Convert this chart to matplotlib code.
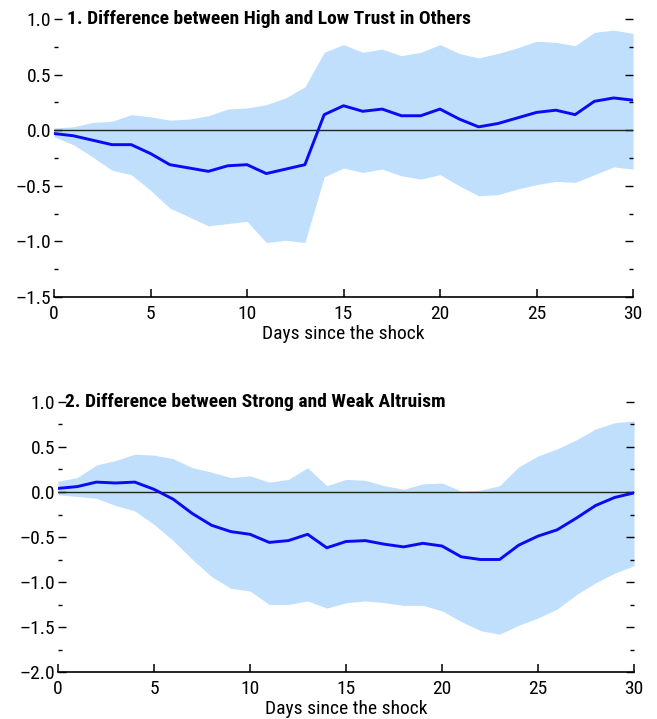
import numpy as np
import matplotlib
matplotlib.use("Agg")
import matplotlib.pyplot as plt
from matplotlib.ticker import MultipleLocator

plt.rcParams['font.family'] = ['Roboto Condensed', 'Archivo Narrow', 'DejaVu Sans']

days = list(range(31))

# Panel 1: high vs low trust in others
trust_mean = [-0.03, -0.05, -0.09, -0.13, -0.13, -0.21, -0.31, -0.34, -0.37, -0.32,
              -0.31, -0.39, -0.35, -0.31, 0.14, 0.22, 0.17, 0.19, 0.13, 0.13,
              0.19, 0.10, 0.03, 0.06, 0.11, 0.16, 0.18, 0.14, 0.26, 0.29, 0.27]
trust_upper = [0.02, 0.03, 0.07, 0.08, 0.14, 0.12, 0.09, 0.10, 0.13, 0.19,
               0.20, 0.23, 0.29, 0.39, 0.70, 0.77, 0.70, 0.73, 0.67, 0.70,
               0.77, 0.69, 0.65, 0.69, 0.74, 0.80, 0.79, 0.76, 0.88, 0.90, 0.87]
trust_lower = [-0.06, -0.13, -0.24, -0.36, -0.40, -0.54, -0.70, -0.78, -0.86, -0.84,
               -0.82, -1.01, -0.99, -1.01, -0.42, -0.34, -0.38, -0.35, -0.41, -0.44,
               -0.40, -0.50, -0.59, -0.58, -0.53, -0.49, -0.46, -0.47, -0.40, -0.33, -0.35]

# Panel 2: strong vs weak altruism
altru_mean = [0.04, 0.06, 0.11, 0.10, 0.11, 0.03, -0.08, -0.24, -0.37, -0.44,
              -0.47, -0.56, -0.54, -0.47, -0.62, -0.55, -0.54, -0.58, -0.61, -0.57,
              -0.60, -0.72, -0.75, -0.75, -0.59, -0.49, -0.42, -0.29, -0.15, -0.06, -0.01]
altru_upper = [0.12, 0.16, 0.30, 0.35, 0.42, 0.41, 0.37, 0.27, 0.22, 0.16,
               0.18, 0.11, 0.14, 0.27, 0.07, 0.14, 0.13, 0.07, 0.03, 0.09,
               0.10, 0.01, 0.02, 0.07, 0.28, 0.40, 0.48, 0.58, 0.70, 0.77, 0.79]
altru_lower = [-0.03, -0.05, -0.07, -0.15, -0.21, -0.36, -0.54, -0.75, -0.94, -1.07,
               -1.10, -1.25, -1.25, -1.21, -1.29, -1.23, -1.21, -1.23, -1.26, -1.26,
               -1.32, -1.44, -1.54, -1.58, -1.48, -1.40, -1.30, -1.14, -1.01, -0.90, -0.82]

titles = ["1. Difference between High and Low Trust in Others",
          "2. Difference between Strong and Weak Altruism"]

BAND = '#c0dffd'
LINE = '#0a0af5'
W, H = 657, 719

fig = plt.figure(figsize=(W / 100, H / 100), dpi=100)
ax1 = fig.add_axes([54 / W, 1 - 297 / H, 579 / W, 278 / H])
ax2 = fig.add_axes([58 / W, 1 - 672 / H, 576 / W, 270 / H])

panels = [
    (ax1, trust_mean, trust_lower, trust_upper, (-1.5, 1.0), 0.022),
    (ax2, altru_mean, altru_lower, altru_upper, (-2.0, 1.0), 0.012),
]

for (ax, mean, lo, hi, ylim, tx), title in zip(panels, titles):
    ax.fill_between(days, lo, hi, color=BAND, lw=0)
    ax.axhline(0, color='#222222', lw=1.0, zorder=2)
    ax.plot(days, mean, color=LINE, lw=2.1, zorder=3)

    ax.set_xlim(0, 30)
    ax.set_ylim(*ylim)
    ax.xaxis.set_major_locator(MultipleLocator(5))
    ax.yaxis.set_major_locator(MultipleLocator(0.5))
    ax.yaxis.set_minor_locator(MultipleLocator(0.25))

    for side in ('top', 'left', 'right'):
        ax.spines[side].set_visible(False)
    ax.spines['bottom'].set_linewidth(1.2)

    ax.tick_params(axis='x', direction='in', length=6, width=1.1, pad=6, labelsize=14)
    ax.tick_params(axis='y', which='major', direction='in', length=6, width=1.0,
                   left=True, right=True, pad=2, labelsize=14)
    ax.tick_params(axis='y', which='minor', direction='in', length=3, width=1.0,
                   left=True, right=True)
    ax.yaxis.set_major_formatter(plt.FuncFormatter(lambda v, p: f"{v:.1f}".replace('-', '\u2013')))

    ax.set_xlabel("Days since the shock", fontsize=14, labelpad=1)
    ax.text(tx, 1.0, title, transform=ax.transAxes, ha='left', va='center',
            fontsize=14, fontweight='bold')

fig.savefig("out.png", dpi=100)
